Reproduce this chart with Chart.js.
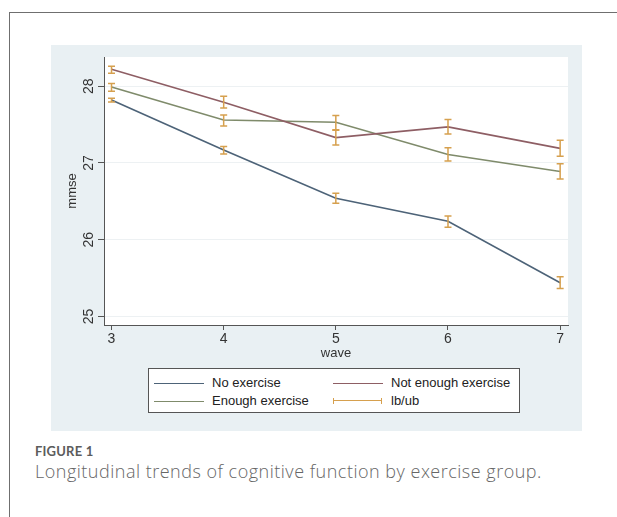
<!DOCTYPE html>
<html>
<head>
<meta charset="utf-8">
<script src="https://cdn.jsdelivr.net/npm/chart.js@4.4.1/dist/chart.umd.min.js"></script>
<style>
  body { margin: 0; width: 617px; height: 517px; background: #fff; position: relative; overflow: hidden; font-family: "Liberation Sans", Arial, sans-serif; }
  #frame { position: absolute; left: 9px; top: 12px; right: -2px; bottom: -2px; border-left: 1px solid #6f6f6f; border-top: 1.5px solid #6f6f6f; }
  #panel { position: absolute; left: 51px; top: 45px; width: 531px; height: 386px; background: #e9f0f3; }
  #chart-line { position: absolute; left: 51px; top: 45px; }
  #legend { position: absolute; left: 148px; top: 368px; width: 370px; height: 43px; border: 1px solid #555; background: #fff; font-size: 13px; color: #222; }
  .item { position: absolute; height: 16px; line-height: 16px; }
  .item .ln { position: absolute; left: 0; top: 8px; width: 50px; height: 0; border-top-width: 1.3px; border-top-style: solid; }
  .item .eb { position: absolute; left: 0; top: 5px; width: 47px; height: 6px; border-left: 1.5px solid; border-right: 1.5px solid; }
  .item .eb::after { content: ""; position: absolute; left: 0; right: 0; top: 2.3px; border-top: 1.3px solid; border-color: inherit; }
  .item span { position: absolute; left: 58px; white-space: nowrap; }
  #fig { position: absolute; left: 35px; top: 443px; font-family: Lato, "Open Sans", sans-serif; font-weight: 700; font-size: 13px; color: #5c5c5c; letter-spacing: 0.2px; }
  #cap { position: absolute; left: 35px; top: 459px; font-family: "Open Sans", Lato, sans-serif; font-weight: 300; font-size: 18px; letter-spacing: 0.5px; color: #666; white-space: nowrap; }
</style>
</head>
<body>
<div id="frame"></div>
<div id="panel"></div>
<canvas id="chart-line" width="531" height="316"></canvas>
<div id="legend"></div>
<div id="fig">FIGURE 1</div>
<div id="cap">Longitudinal trends of cognitive function by exercise group.</div>
<script>
var waves = [3, 4, 5, 6, 7];
var yTicks = [25, 26, 27, 28];

var groups = ["No exercise", "Not enough exercise", "Enough exercise"];
var colors = ["#4d6378", "#8e5e64", "#7f8b6b"];
var barColor = "#d6a04e";

// mean mmse per wave
var noExercise = [27.82, 27.17, 26.54, 26.24, 25.44];
var notEnough = [28.22, 27.79, 27.33, 27.47, 27.19];
var enough = [27.99, 27.56, 27.53, 27.11, 26.89];

// lower / upper bounds
var noExerciseLb = [27.795, 27.116, 26.476, 26.163, 25.366];
var noExerciseUb = [27.843, 27.216, 26.607, 26.311, 25.518];
var notEnoughLb = [28.170, 27.717, 27.234, 27.377, 27.086];
var notEnoughUb = [28.261, 27.869, 27.425, 27.565, 27.295];
var enoughLb = [27.935, 27.482, 27.434, 27.025, 26.790];
var enoughUb = [28.035, 27.626, 27.617, 27.199, 26.990];

var means = [noExercise, notEnough, enough];
var lower = [noExerciseLb, notEnoughLb, enoughLb];
var upper = [noExerciseUb, notEnoughUb, enoughUb];

// legend
var legend = document.getElementById("legend");
var legendItems = [
  { text: groups[0], color: colors[0], left: 5, top: 6 },
  { text: groups[1], color: colors[1], left: 184, top: 6 },
  { text: groups[2], color: colors[2], left: 5, top: 24 },
  { text: "lb/ub", color: barColor, left: 184, top: 24, bar: true },
];
legendItems.forEach(function (it) {
  var d = document.createElement("div");
  d.className = "item";
  d.style.left = it.left + "px";
  d.style.top = it.top + "px";
  var mark = document.createElement("div");
  mark.className = it.bar ? "eb" : "ln";
  mark.style.borderColor = it.color;
  var label = document.createElement("span");
  label.textContent = it.text;
  d.appendChild(mark);
  d.appendChild(label);
  legend.appendChild(d);
});

var plotBg = {
  id: "plotBg",
  beforeDraw: function (chart) {
    var a = chart.chartArea;
    chart.ctx.save();
    chart.ctx.fillStyle = "#ffffff";
    chart.ctx.fillRect(a.left, a.top, a.right - a.left, a.bottom - a.top);
    chart.ctx.restore();
  },
};

var errorBars = {
  id: "errorBars",
  afterDatasetsDraw: function (chart) {
    var ctx = chart.ctx;
    var x = chart.scales.x;
    var y = chart.scales.y;
    ctx.save();
    ctx.strokeStyle = barColor;
    ctx.lineWidth = 1.5;
    lower.forEach(function (lbs, g) {
      lbs.forEach(function (lb, i) {
        var px = x.getPixelForValue(waves[i]);
        var y1 = y.getPixelForValue(lb);
        var y2 = y.getPixelForValue(upper[g][i]);
        ctx.beginPath();
        ctx.moveTo(px, y1);
        ctx.lineTo(px, y2);
        ctx.moveTo(px - 3.5, y1);
        ctx.lineTo(px + 3.5, y1);
        ctx.moveTo(px - 3.5, y2);
        ctx.lineTo(px + 3.5, y2);
        ctx.stroke();
      });
    });
    ctx.restore();
  },
};

var ctx = document.getElementById("chart-line");
var myLineChart = new Chart(ctx, {
  type: "line",
  data: {
    datasets: means.map(function (vals, g) {
      return {
        label: groups[g],
        data: vals.map(function (v, i) { return { x: waves[i], y: v }; }),
        borderColor: colors[g],
        borderWidth: 1.6,
        pointRadius: 0,
        tension: 0,
        fill: false,
      };
    }),
  },
  options: {
    responsive: false,
    animation: false,
    devicePixelRatio: 1,
    layout: { padding: { top: 12, right: 14, left: 0, bottom: 0 } },
    plugins: { legend: { display: false }, tooltip: { enabled: false } },
    scales: {
      x: {
        type: "linear",
        min: 2.933,
        max: 7.07,
        afterBuildTicks: function (s) { s.ticks = waves.map(function (v) { return { value: v }; }); },
        afterFit: function (s) { s.height = 36; },
        grid: { drawOnChartArea: false, tickLength: 5, tickColor: "#555", tickWidth: 1 },
        border: { color: "#555", width: 1 },
        ticks: { padding: 1, color: "#333", font: { family: "Liberation Sans", size: 14 } },
        title: { display: true, text: "wave", color: "#333", padding: { top: 0, bottom: 0 }, font: { family: "Liberation Sans", size: 13 } },
      },
      y: {
        type: "linear",
        min: 24.89,
        max: 28.38,
        afterBuildTicks: function (s) { s.ticks = yTicks.map(function (v) { return { value: v }; }); },
        afterFit: function (s) { s.width = 53; },
        grid: { color: "#edf1f3", lineWidth: 1, tickLength: 6, tickColor: "#555", tickWidth: 1 },
        border: { color: "#555", width: 1 },
        ticks: { padding: 1, minRotation: 90, maxRotation: 90, crossAlign: "center", color: "#333", font: { family: "Liberation Sans", size: 14 } },
        title: { display: true, text: "mmse", color: "#333", padding: { top: 14, bottom: 0 }, font: { family: "Liberation Sans", size: 13 } },
      },
    },
  },
  plugins: [plotBg, errorBars],
});
</script>
</body>
</html>
